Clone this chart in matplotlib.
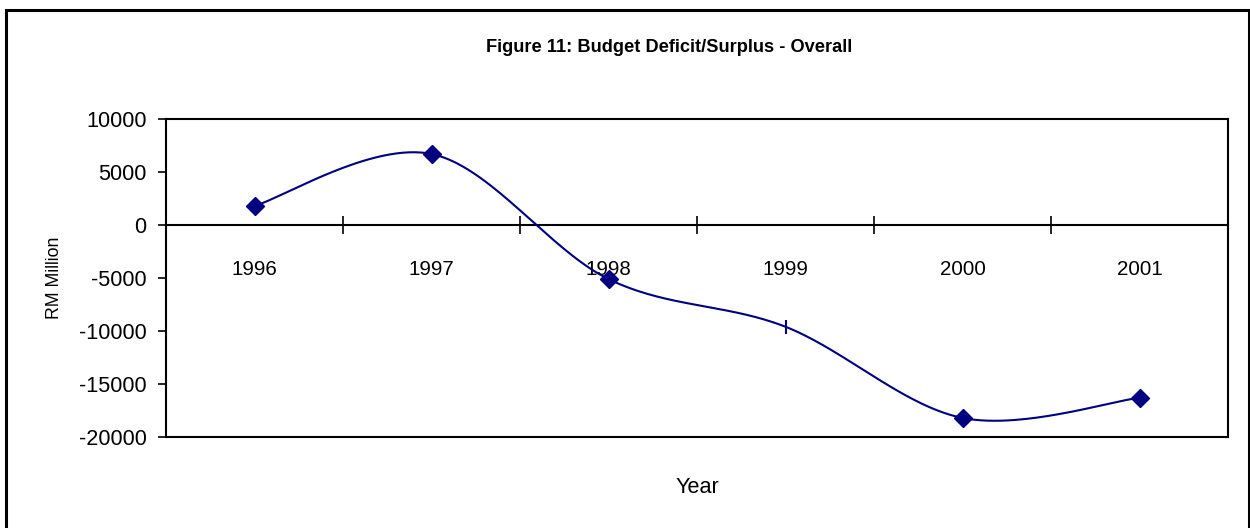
import matplotlib
matplotlib.use('Agg')

import matplotlib.pyplot as plt
import numpy as np
from matplotlib import font_manager
from matplotlib.patches import Rectangle

# 整体预算赤字/盈余（RM 百万）
years = ['1996', '1997', '1998', '1999', '2000', '2001']
balance = [1800, 6700, -5100, -9600, -18200, -16300]

LINE_COLOR = '#000080'

# 优先使用窄体；没有的话用普通 Liberation Sans，字号按比例缩小
_names = {f.name for f in font_manager.fontManager.ttflist}
if 'Liberation Sans Narrow' in _names:
    FAMILY = ['Liberation Sans Narrow', 'Liberation Sans', 'DejaVu Sans']
    K = 1.0
else:
    FAMILY = ['Liberation Sans', 'DejaVu Sans']
    K = 0.82

plt.rcParams['font.family'] = FAMILY
plt.rcParams['axes.unicode_minus'] = False


def smooth_curve(y, n=60):
    """Excel 风格的平滑折线（三次贝塞尔，切线取相邻点差的 1/6）"""
    y = np.asarray(y, dtype=float)
    x = np.arange(len(y), dtype=float)
    px = np.concatenate([[x[0]], x, [x[-1]]])
    py = np.concatenate([[y[0]], y, [y[-1]]])
    xs, ys = [], []
    t = np.linspace(0, 1, n)
    for i in range(len(y) - 1):
        p0 = np.array([x[i], y[i]])
        p3 = np.array([x[i + 1], y[i + 1]])
        p1 = p0 + (np.array([px[i + 2], py[i + 2]]) - np.array([px[i], py[i]])) / 6
        p2 = p3 - (np.array([px[i + 3], py[i + 3]]) - np.array([px[i + 1], py[i + 1]])) / 6
        b = ((1 - t) ** 3)[:, None] * p0 + (3 * (1 - t) ** 2 * t)[:, None] * p1 \
            + (3 * (1 - t) * t ** 2)[:, None] * p2 + (t ** 3)[:, None] * p3
        xs.extend(b[:, 0])
        ys.extend(b[:, 1])
    return np.array(xs), np.array(ys)


fig = plt.figure(figsize=(12.5, 5.28), dpi=100)
ax = fig.add_axes([166 / 1250, 1 - 437 / 528, (1228 - 166) / 1250, (437 - 119) / 528])

# 外框
fig.patches.append(Rectangle((6 / 1250, -0.02), (1249 - 6) / 1250, (523 - 5) / 528 + 0.02,
                             transform=fig.transFigure, fill=False,
                             edgecolor='black', linewidth=2.2, zorder=0))

sx, sy = smooth_curve(balance)
ax.plot(sx, sy, color=LINE_COLOR, linewidth=1.5, zorder=3)

idx = np.arange(len(years))
diamond = [i for i in idx if i != 3]
ax.plot(idx[diamond], np.array(balance)[diamond], linestyle='none', marker='D',
        markersize=9, color=LINE_COLOR, zorder=4)
ax.plot(idx[3], balance[3], linestyle='none', marker='|', markersize=10,
        markeredgewidth=1.5, color=LINE_COLOR, zorder=4)

ax.set_xlim(-0.5, len(years) - 0.5)
ax.set_ylim(-20000, 10000)
ax.set_yticks(np.arange(-20000, 10001, 5000))
ax.tick_params(axis='y', direction='out', length=6, width=1.2,
               labelsize=19 * K, pad=8)
ax.set_xticks([])
for s in ax.spines.values():
    s.set_linewidth(1.5)

# 零轴上的分类刻度
sec = ax.secondary_xaxis(2 / 3)
sec.set_alignment('bottom')
for s in sec.spines.values():
    s.set_linewidth(1.5)
sec.set_xticks(np.arange(0.5, len(years) - 1, 1.0))
sec.set_xticklabels([])
sec.set_xticks(idx, labels=years, minor=True)
sec.tick_params(axis='x', which='major', direction='inout', length=13, width=1.2)
sec.tick_params(axis='x', which='minor', length=0, labelsize=18 * K, pad=25)

ax.set_ylabel('RM Million', fontsize=15.5 * K, labelpad=11)
ax.set_xlabel('Year', fontsize=19 * K, labelpad=29)

fig.text(669 / 1250, 1 - 52 / 528, 'Figure 11: Budget Deficit/Surplus - Overall',
         ha='center', va='baseline', fontsize=16 * K, fontweight='bold')

fig.savefig('out.png', dpi=100)
